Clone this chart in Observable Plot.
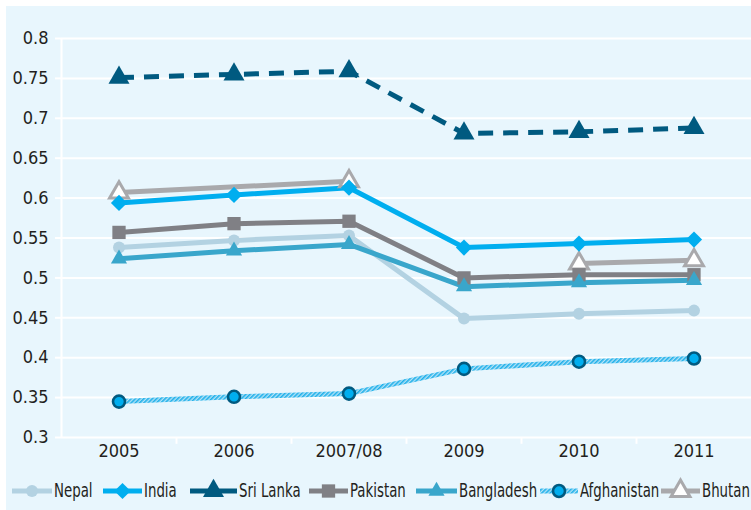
<!DOCTYPE html>
<html><head><meta charset="utf-8">
<script src="https://cdn.jsdelivr.net/npm/d3@7"></script>
<script src="https://cdn.jsdelivr.net/npm/@observablehq/plot@0.6"></script>
<style>
body{margin:0;background:#fff;font-family:"DejaVu Sans Condensed","DejaVu Sans",sans-serif;}
#wrap{position:absolute;left:6px;top:6px;width:745px;height:504px;background:#e8f6fd;overflow:hidden;}
#chart{position:absolute;left:0;top:0;}
#legend{position:absolute;left:0;top:466px;width:745px;height:38px;}
.sw{position:absolute;top:9px;overflow:visible}
.lab{position:absolute;top:7px;font-size:19px;line-height:22px;color:#231f20;white-space:nowrap;transform:scaleX(0.78);transform-origin:0 50%}
</style></head><body>
<svg width="0" height="0" style="position:absolute">
  <defs>
    <pattern id="hatch" patternUnits="userSpaceOnUse" width="3" height="3" patternTransform="rotate(45)">
      <rect width="3" height="3" fill="#b5e3f7"></rect>
      <rect width="1.6" height="3" fill="#1eb0ea"></rect>
    </pattern>
  </defs>
</svg>
<div id="wrap"><div id="chart"></div><div id="legend"></div></div>
<script>
const years = ["2005", "2006", "2007/08", "2009", "2010", "2011"];
const nepal       = [0.538, 0.547, 0.553, 0.449, 0.455, 0.459];
const india       = [0.594, 0.604, 0.613, 0.538, 0.543, 0.548];
const sriLanka    = [0.751, 0.755, 0.759, 0.681, 0.683, 0.688];
const pakistan    = [0.557, 0.568, 0.571, 0.500, 0.504, 0.504];
const bangladesh  = [0.524, 0.534, 0.542, 0.489, 0.494, 0.497];
const afghanistan = [0.345, 0.351, 0.355, 0.386, 0.395, 0.399];
const bhutan      = [0.607, null, 0.621, null, 0.518, 0.522];
const yTicks = [0.3, 0.35, 0.4, 0.45, 0.5, 0.55, 0.6, 0.65, 0.7, 0.75, 0.8];

const series = [
  {name: "Nepal", values: nepal, stroke: "#b3d2e2", symbol: "circle", r: 6, fill: "#b3d2e2"},
  {name: "India", values: india, stroke: "#00aeef", symbol: "diamond2", r: 7.3, fill: "#00aeef"},
  {name: "Sri Lanka", values: sriLanka, stroke: "#005a80", symbol: "triangle", r: 7.8, fill: "#005a80", dash: "15,10"},
  {name: "Pakistan", values: pakistan, stroke: "#808085", symbol: "square", r: 7.5, fill: "#808085"},
  {name: "Bangladesh", values: bangladesh, stroke: "#39a6cb", symbol: "triangle", r: 6, fill: "#39a6cb"},
  {name: "Afghanistan", values: afghanistan, stroke: "url(#hatch)", symbol: "circle", r: 6, fill: "#00aeef", mstroke: "#005a80", msw: 2.6},
  {name: "Bhutan", values: bhutan, stroke: "#a9a9ac", symbol: "triangle", r: 7, fill: "#ffffff", mstroke: "#a9a9ac", msw: 3}
];
const drawOrder = ["Bhutan", "Nepal", "Pakistan", "Bangladesh", "India", "Sri Lanka", "Afghanistan"];

function rowsOf(s) {
  let seg = 0;
  const out = [];
  s.values.forEach((v, i) => {
    if (v == null) { if (years[i] === "2009") seg++; return; }
    out.push({year: years[i], value: v, seg: s.name + seg});
  });
  return out;
}

const marks = [
  Plot.gridY(yTicks, {stroke: "#ffffff", strokeOpacity: 1, strokeWidth: 2}),
  Plot.axisY(yTicks, {tickSize: 6, tickPadding: 7, stroke: "#ffffff", strokeWidth: 2, fill: "#231f20", fontSize: 18,
    tickFormat: d => String(+d.toFixed(2)), label: null}),
  Plot.ruleX([years[0]], {x: d => d, dx: -57.5, y1: 0.3, y2: 0.8, stroke: "#ffffff", strokeWidth: 2}),
  Plot.ruleX(years.slice(1), {x: d => d, dx: -57.5, y1: 0.3, y2: 0.2915, stroke: "#ffffff", strokeWidth: 2}),
  Plot.axisX({tickSize: 0, tickPadding: 7, fontSize: 18, fill: "#231f20", label: null})
];
for (const name of drawOrder) {
  const s = series.find(d => d.name === name);
  marks.push(Plot.line(rowsOf(s), {x: "year", y: "value", z: "seg", stroke: s.stroke, strokeWidth: 5,
    strokeDasharray: s.dash, strokeLinejoin: "miter", strokeLinecap: "butt"}));
}
for (const name of drawOrder) {
  const s = series.find(d => d.name === name);
  marks.push(Plot.dot(rowsOf(s), {x: "year", y: "value", symbol: s.symbol, r: s.r, fill: s.fill,
    stroke: s.mstroke || "none", strokeWidth: s.msw || 0}));
}

const chart = Plot.plot({
  width: 745, height: 466,
  marginLeft: 55, marginRight: 0, marginTop: 32, marginBottom: 35,
  style: {background: "transparent", fontFamily: '"DejaVu Sans Condensed","DejaVu Sans",sans-serif', overflow: "visible"},
  x: {type: "band", domain: years, padding: 0, axis: null},
  y: {domain: [0.3, 0.8], axis: null},
  marks
});
document.getElementById("chart").appendChild(chart);

// legend (layout positions only)
const swatchX = [6, 97, 184, 303, 410, 534, 655];
const swatchW = [40, 39, 47, 39, 41, 38, 39];
const legend = d3.select("#legend");
series.forEach((s, i) => {
  const w = swatchW[i];
  const svg = legend.append("svg").attr("class", "sw").style("left", swatchX[i] + "px")
    .attr("width", w).attr("height", 20);
  svg.append("line").attr("x1", 0).attr("x2", w).attr("y1", 10).attr("y2", 10)
    .attr("stroke", s.stroke).attr("stroke-width", 5);
  const sym = {circle: d3.symbolCircle, diamond2: d3.symbolDiamond2, triangle: d3.symbolTriangle, square: d3.symbolSquare}[s.symbol];
  svg.append("path").attr("transform", `translate(${w / 2},10)`)
    .attr("d", d3.symbol(sym, Math.PI * s.r * s.r)())
    .attr("fill", s.fill).attr("stroke", s.mstroke || "none").attr("stroke-width", s.msw || 0);
  legend.append("span").attr("class", "lab").style("left", (swatchX[i] + w + 2) + "px").text(s.name);
});
</script>
</body></html>
